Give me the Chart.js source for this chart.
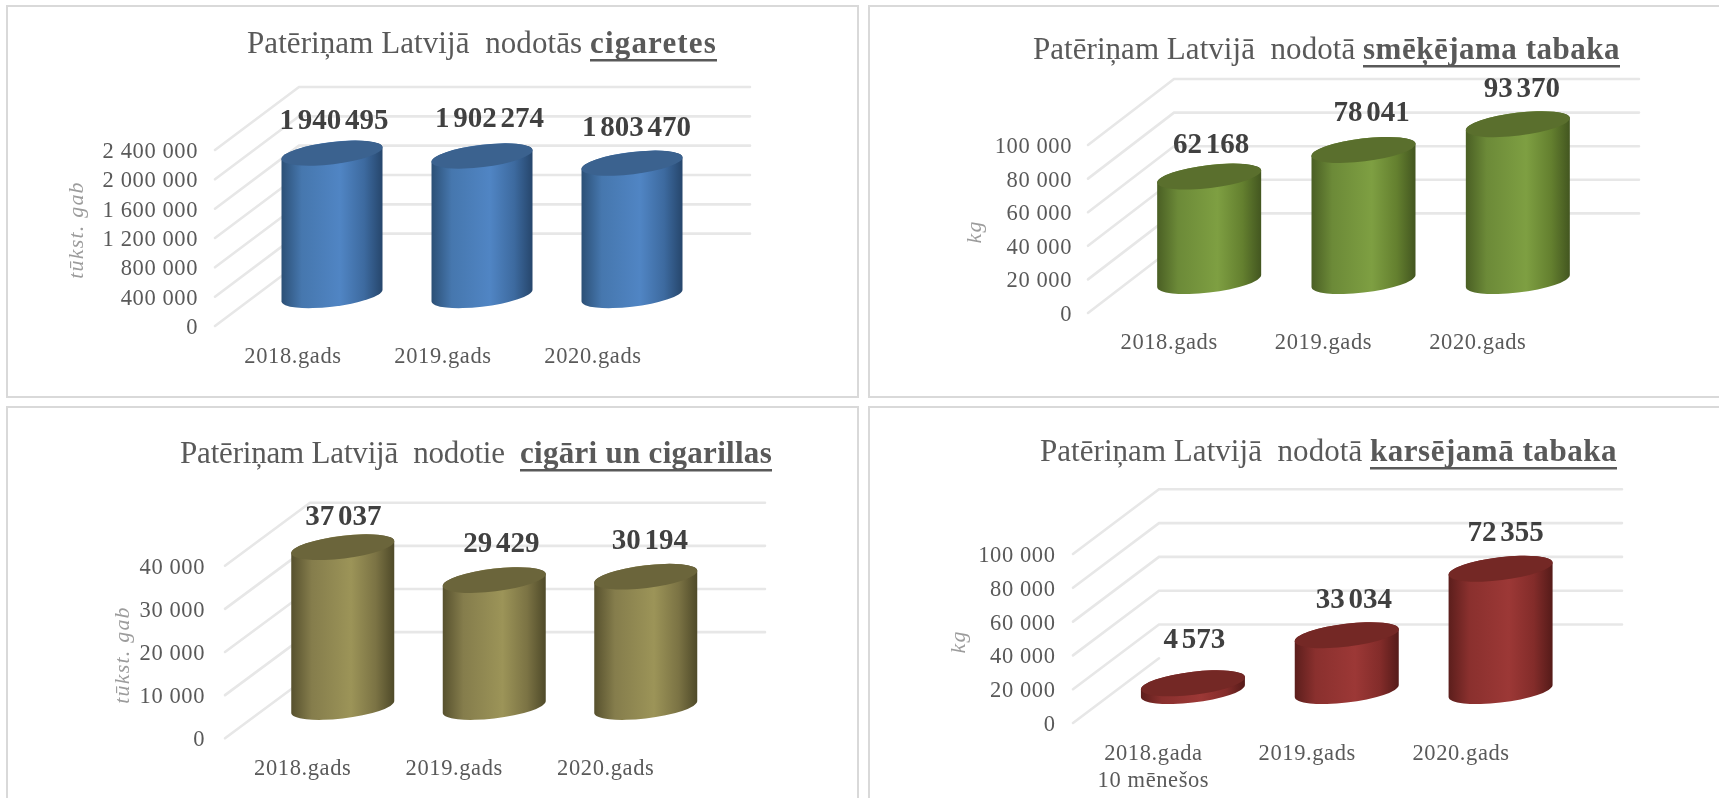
<!DOCTYPE html>
<html lang="lv">
<head>
<meta charset="utf-8">
<title>Patēriņam Latvijā nodotie tabakas izstrādājumi</title>
<script src="https://cdn.jsdelivr.net/npm/chart.js@4"></script>
<style>
html,body{margin:0;padding:0;background:#fff;width:1719px;height:798px;overflow:hidden}
canvas{position:absolute;filter:blur(.5px)}
.frame{position:absolute;border:2px solid #d9d9d9;box-sizing:border-box}
</style>
</head>
<body>
<script>
// ---- data ----
const catsStandard = ['2018.gads', '2019.gads', '2020.gads'];
const catsHeated = [['2018.gada', '10 mēnešos'], '2019.gads', '2020.gads'];
const cigarettes = [1940495, 1902274, 1803470];
const smokingTobacco = [62168, 78041, 93370];
const cigarsCigarillos = [37037, 29429, 30194];
const heatedTobacco = [4573, 33034, 72355];

// ---- panel layout and styling (page coordinates) ----
const panels = [
  { values: cigarettes, cats: catsStandard, max: 2400000, step: 400000, unit: 'tūkst. gab',
    titleA: 'Patēriņam Latvijā  nodotās ', titleB: 'cigaretes', titleL: 247, titleM: 590, titleR: 717, titleY: 53,
    box: [0, 0, 860, 400], frame: [6, 5, 853, 393],
    plot: [218, 668, 150, 326], gridX: 215, depth: [84, 63], rightX: 750, tickPad: 20,
    barOff: [39, -30.5], barW: 101, unitXY: [77, 230], labelPad: 18,
    lblOff: [[2, -31.5], [7.5, -36], [4.5, -35]],
    colors: ['#2c5076', '#4677ae', '#5085c4', '#3d6a9f', '#26466c', '#3b628f'] },
  { values: smokingTobacco, cats: catsStandard, max: 100000, step: 20000, unit: 'kg',
    titleA: 'Patēriņam Latvijā  nodotā ', titleB: 'smēķējama tabaka', titleL: 1033, titleM: 1363, titleR: 1620, titleY: 59,
    box: [860, 0, 859, 400], frame: [868, 5, 860, 393],
    plot: [1092, 1555, 145, 313], gridX: 1088, depth: [86, 66], rightX: 1639, tickPad: 20,
    barOff: [40, -32], barW: 104, unitXY: [975, 232], labelPad: 17,
    lblOff: [[2, -31.5], [8, -36], [4, -35]],
    colors: ['#4a5f24', '#6c8a38', '#7e9f42', '#64802f', '#435620', '#5a6f2d'] },
  { values: cigarsCigarillos, cats: catsStandard, max: 40000, step: 10000, unit: 'tūkst. gab',
    titleA: 'Patēriņam Latvijā  nodotie  ', titleB: 'cigāri un cigarillas', titleL: 180, titleM: 520, titleR: 772, titleY: 463,
    box: [0, 400, 860, 398], frame: [6, 406, 853, 400],
    plot: [227, 681.5, 565.7, 738.3], gridX: 225, depth: [85, 63], rightX: 765, tickPad: 22,
    barOff: [40, -31.3], barW: 103, unitXY: [123, 655], labelPad: 17,
    lblOff: [[0.5, -30], [7, -35], [4, -35]],
    colors: ['#57512e', '#857d4c', '#9c9458', '#7b7344', '#4f4a29', '#6b653b'] },
  { values: heatedTobacco, cats: catsHeated, max: 100000, step: 20000, unit: 'kg',
    titleA: 'Patēriņam Latvijā  nodotā ', titleB: 'karsējamā tabaka', titleL: 1040, titleM: 1370, titleR: 1617, titleY: 461,
    box: [860, 400, 859, 398], frame: [868, 406, 860, 400],
    plot: [1076.5, 1538, 554, 723], gridX: 1073, depth: [86, 64.7], rightX: 1622, tickPad: 21,
    barOff: [39.5, -32], barW: 104, unitXY: [959, 642], labelPad: 18,
    lblOff: [[1.5, -43], [7, -35], [5, -35]],
    colors: ['#5c1e1c', '#8a302e', '#9c3836', '#832c2a', '#551b19', '#742825'] }
];

const spaced = n => String(n).replace(/\B(?=(\d{3})+(?!\d))/g, ' ');

function cylinderPath(w) {
  const X = w / 2, Y = X * 0.25, O = X * 0.115;
  const two = Math.atan2(2 * O * X, X * X - Y * Y);
  const diff = (X * X - Y * Y) / Math.cos(two), sum = X * X + Y * Y;
  return { A: Math.sqrt((sum + diff) / 2), B: Math.sqrt((sum - diff) / 2), rot: -two / 2 };
}

const cylinderPlugin = {
  id: 'cylinder3d',
  beforeDraw(chart, _a, o) {
    const ctx = chart.ctx, p = o.panel, ox = p.box[0], oy = p.box[1];
    ctx.letterSpacing = '0.6px';
    const s = chart.scales.y;
    ctx.save();
    ctx.strokeStyle = '#e7e7e7';
    ctx.lineWidth = 2.6;
    ctx.lineCap = 'round';
    s.ticks.forEach(t => {
      const y = s.getPixelForValue(t.value);
      const fx = p.gridX - ox;
      ctx.beginPath();
      ctx.moveTo(fx, y);
      ctx.lineTo(fx + p.depth[0], y - p.depth[1]);
      if (t.value !== 0) ctx.lineTo(p.rightX - ox, y - p.depth[1]);
      ctx.stroke();
    });
    ctx.restore();
    // chart heading: regular part + bold underlined part
    ctx.save();
    ctx.textBaseline = 'alphabetic';
    ctx.textAlign = 'left';
    const fa = '31px "Liberation Serif"', fb = 'bold 31px "Liberation Serif"';
    const tx = p.titleL - ox, ty = p.titleY - oy, xb = p.titleM - ox;
    ctx.fillStyle = '#595959';
    ctx.letterSpacing = '0px';
    ctx.font = fa;
    const wa = ctx.measureText(p.titleA).width;
    ctx.letterSpacing = ((p.titleM - p.titleL - wa) / p.titleA.length) + 'px';
    ctx.fillText(p.titleA, tx, ty);
    ctx.letterSpacing = '0px';
    ctx.font = fb;
    const wb = ctx.measureText(p.titleB).width;
    ctx.letterSpacing = ((p.titleR - p.titleM - wb) / p.titleB.length) + 'px';
    ctx.fillText(p.titleB, xb, ty);
    ctx.fillRect(xb, ty + 6, p.titleR - ox - xb, 2.5);
    // unit caption
    ctx.letterSpacing = '1.2px';
    ctx.translate(p.unitXY[0] - ox, p.unitXY[1] - oy);
    ctx.rotate(-Math.PI / 2);
    ctx.font = 'italic 22px "Liberation Serif"';
    ctx.fillStyle = '#9c9c9c';
    ctx.textAlign = 'center';
    ctx.textBaseline = 'middle';
    ctx.fillText(p.unit, 0, 0);
    ctx.restore();
  },
  beforeDatasetDraw(chart, args, o) {
    const ctx = chart.ctx, p = o.panel, c = p.colors;
    const meta = chart.getDatasetMeta(args.index);
    meta.data.forEach(el => {
      const v = el.getProps(['x', 'y', 'base', 'width'], true);
      const cx = v.x + p.barOff[0], top = v.y + p.barOff[1], bot = v.base + p.barOff[1];
      const g = cylinderPath(v.width);
      const tR = Math.atan2(-g.B * Math.sin(g.rot), g.A * Math.cos(g.rot));
      const tL = tR + Math.PI;
      const grad = ctx.createLinearGradient(cx - v.width / 2, 0, cx + v.width / 2, 0);
      grad.addColorStop(0, c[0]);
      grad.addColorStop(0.2, c[1]);
      grad.addColorStop(0.58, c[2]);
      grad.addColorStop(0.82, c[3]);
      grad.addColorStop(1, c[4]);
      ctx.save();
      ctx.beginPath();
      ctx.ellipse(cx, bot, g.A, g.B, g.rot, tR, tL, false);
      ctx.ellipse(cx, top, g.A, g.B, g.rot, tL, tR + Math.PI * 2, false);
      ctx.closePath();
      ctx.fillStyle = grad;
      ctx.fill();
      ctx.beginPath();
      ctx.ellipse(cx, top, g.A, g.B, g.rot, 0, Math.PI * 2);
      ctx.fillStyle = c[5];
      ctx.fill();
      ctx.restore();
    });
    return false;
  },
  afterDatasetsDraw(chart, _a, o) {
    const ctx = chart.ctx, p = o.panel;
    const meta = chart.getDatasetMeta(0);
    ctx.save();
    ctx.letterSpacing = '0px';
    ctx.wordSpacing = '-3.5px';
    ctx.font = 'bold 29px "Liberation Serif"';
    ctx.fillStyle = '#404040';
    ctx.textAlign = 'center';
    ctx.textBaseline = 'middle';
    meta.data.forEach((el, i) => {
      const v = el.getProps(['x', 'y'], true);
      ctx.fillText(spaced(p.values[i]),
        v.x + p.barOff[0] + p.lblOff[i][0],
        v.y + p.barOff[1] + p.lblOff[i][1]);
    });
    ctx.restore();
  }
};

panels.forEach(p => {
  const fr = document.createElement('div');
  fr.className = 'frame';
  fr.style.cssText = `left:${p.frame[0]}px;top:${p.frame[1]}px;width:${p.frame[2]}px;height:${p.frame[3]}px`;
  document.body.appendChild(fr);
});
panels.forEach(p => {
  const cv = document.createElement('canvas');
  cv.width = p.box[2]; cv.height = p.box[3];
  cv.style.cssText = `left:${p.box[0]}px;top:${p.box[1]}px;width:${p.box[2]}px;height:${p.box[3]}px`;
  document.body.appendChild(cv);
  const [l, r, t, b] = p.plot;
  const axisW = l - p.box[0], axisH = p.box[1] + p.box[3] - b;
  new Chart(cv, {
    type: 'bar',
    data: { labels: p.cats, datasets: [{
      data: p.values, backgroundColor: p.colors[2], barThickness: p.barW }] },
    plugins: [cylinderPlugin],
    options: {
      responsive: false, animation: false, devicePixelRatio: 1,
      layout: { padding: { left: 0, right: p.box[0] + p.box[2] - r, top: t - p.box[1], bottom: 0 } },
      plugins: { legend: { display: false }, tooltip: { enabled: false },
                 cylinder3d: { panel: p } },
      scales: {
        x: {
          afterFit: s => { s.height = axisH; },
          grid: { display: false, drawTicks: false }, border: { display: false },
          ticks: { color: '#595959', padding: p.labelPad, maxRotation: 0, minRotation: 0, autoSkip: false,
                   font: { family: '"Liberation Serif"', size: 22.5, lineHeight: 1.2 } }
        },
        y: {
          min: 0, max: p.max,
          afterFit: s => { s.width = axisW; },
          grid: { display: false, drawTicks: false }, border: { display: false },
          ticks: { stepSize: p.step, color: '#595959', padding: p.tickPad, labelOffset: 2, autoSkip: false,
                   callback: v => spaced(v),
                   font: { family: '"Liberation Serif"', size: 22.5 } }
        }
      }
    }
  });
});
</script>
</body>
</html>
